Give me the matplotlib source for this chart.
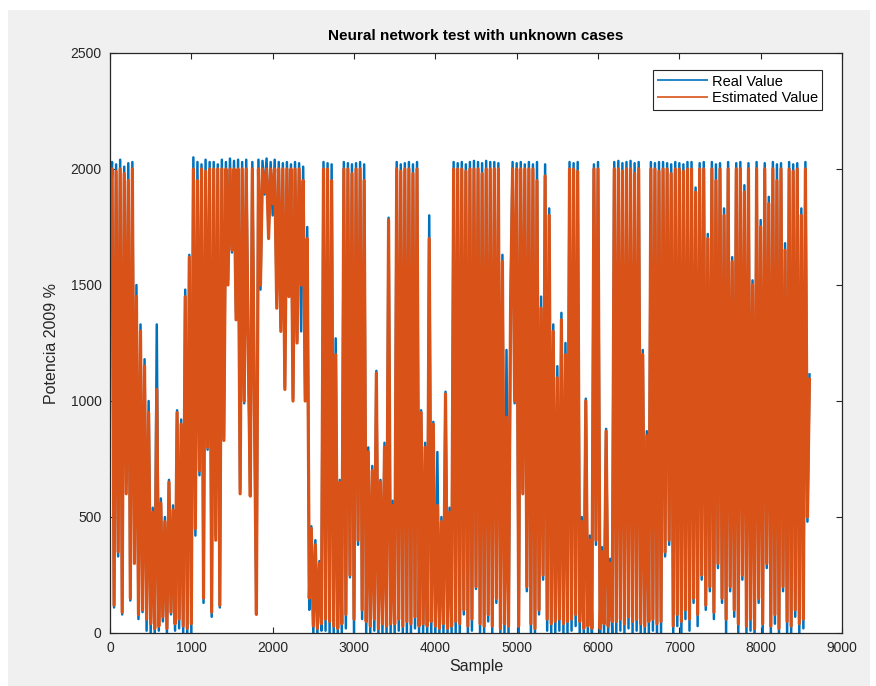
import matplotlib
matplotlib.use("Agg")
import matplotlib.pyplot as plt
import numpy as np
from matplotlib.patches import Rectangle

plt.rcParams["font.family"] = ["Liberation Sans", "DejaVu Sans"]

# one value every 25 samples
step = 25

real_value = [
    1900, 2030, 110, 2020, 330, 2040, 80, 2010, 640, 2025, 140, 2030, 320,
    1500, 60, 1330, 90, 1180,
    10, 1000, 0,
    540, 0, 1330, 10,
    580, 50, 500, 0, 660, 80, 550, 10, 960, 20,
    920, 0, 1480,
    0, 1630, 0,
    2050, 420, 2030,
    680, 2020, 130, 2040, 790, 2030,
    70, 2030, 420, 2020, 110,
    2040, 840, 2030, 1520, 2045, 1640, 2035, 1380, 2040, 620, 2030, 990, 2040, 1230,
    600, 2030, 1010,
    90,
    2040, 1480, 2035, 1890, 2045, 1720, 2030, 1800, 2040,
    1420, 2030, 1320, 2025, 1060, 2030, 1470, 2020, 1010, 2030, 1260, 2025, 1300, 2010,
    1020, 1750, 100,
    460, 0, 400, 0, 310, 10,
    2030, 10, 2025, 0, 2020,
    0, 1270, 0, 660, 0,
    2030, 20, 2025, 240, 2020, 0, 2025, 380, 2030, 60, 2020,
    0, 800, 0, 720, 10, 1130, 0, 660, 0, 820, 0, 1790,
    0, 570,
    0, 2030, 10, 2020, 0, 2025, 0, 2030, 0, 2020, 20, 2030, 0,
    960, 0, 820, 0, 1800, 0, 910,
    0, 780, 0, 500, 0, 1040, 0, 540,
    0, 2030, 0, 2025,
    0, 2030, 80, 2020, 0, 2030, 10, 2035, 190, 2030, 0, 2025, 0, 2035, 50, 2030, 0, 2030, 130, 2025,
    0, 1630, 0, 1220, 0, 1420,
    2030, 990, 2025, 0, 2030, 620, 2020, 180,
    2030, 0, 2020, 0, 2030,
    80, 1450, 230,
    2020, 10, 1830, 0,
    1330, 0, 1150, 10, 1380, 0, 1250, 0,
    2030, 10, 2025, 30, 2030, 0,
    500, 0, 1010, 0, 420, 0,
    2020, 380, 2030,
    0, 370, 0, 880, 0, 320, 0,
    2030, 0, 2035, 10, 2025, 0, 2030, 20, 2035, 0, 2025, 10, 2030,
    0, 1220, 0, 870,
    0, 2030, 10, 2025, 0, 2030, 0,
    2030, 330, 2025, 380, 2020,
    0, 2030, 30, 2025, 0, 2020, 60, 2030,
    10, 2030, 130, 1920, 30, 2025, 230, 2030, 100, 1720,
    180, 2030, 60, 2020, 280, 2025, 130, 1830, 0, 2030,
    180, 1620, 70, 2025, 0, 2030, 230, 1930, 0, 2025,
    10, 1520, 0, 2030, 130, 1780, 0, 2025, 280, 1880,
    0, 2030, 40, 2020, 0, 2025, 180, 1680, 0, 2030,
    0, 2020, 70, 2025, 0, 1830, 20, 2030, 480, 1120,
]

estimated_value = [
    1850, 2000, 120, 1990, 350, 2000, 90, 1980, 600, 1950, 150, 2000, 300,
    1450, 80, 1300, 100, 1150,
    60, 950, 40,
    520, 20, 1050, 30,
    560, 70, 480, 20, 650, 90, 530, 40, 950, 60,
    900, 30, 1450,
    20, 1620, 40,
    2000, 450, 1950,
    700, 2000, 150, 1990, 800, 2000,
    90, 2000, 400, 2000, 120,
    2000, 830, 2000, 1500, 2000, 1650, 2000, 1350, 2000, 600, 2000, 1000, 2000, 1200,
    590, 2000, 1000,
    80,
    2000, 1500, 2000, 1900, 2000, 1700, 2000, 1850, 2000,
    1400, 2000, 1300, 2000, 1050, 2000, 1450, 2000, 1000, 2000, 1250, 2000, 1500, 1950,
    1000, 1700, 150,
    450, 30, 380, 20, 300, 40,
    2000, 60, 2000, 50, 1950,
    30, 1200, 20, 650, 40,
    2000, 80, 2000, 250, 1980, 60, 2000, 400, 2000, 100, 1950,
    50, 780, 30, 700, 60, 1120, 20, 650, 40, 800, 30, 1780,
    40, 550,
    40, 2000, 60, 1990, 30, 2000, 50, 2000, 40, 1980, 70, 2000, 30,
    950, 40, 800, 30, 1700, 50, 900,
    30, 550, 20, 480, 40, 1030, 20, 520,
    30, 2000, 50, 2000,
    40, 2000, 100, 1990, 30, 2000, 60, 2000, 200, 2000, 40, 1980, 30, 2000, 80, 2000, 30, 2000, 150, 2000,
    20, 1600, 40, 930, 30, 1400,
    2000, 1000, 2000, 30, 2000, 600, 2000, 200,
    2000, 40, 2000, 20, 1950,
    100, 1400, 250,
    1970, 60, 1800, 40,
    1300, 50, 1100, 60, 1350, 40, 1200, 50,
    2000, 60, 2000, 80, 1990, 50,
    480, 20, 1000, 30, 400, 20,
    2000, 400, 2000,
    20, 350, 40, 870, 30, 300, 50,
    2000, 50, 2000, 60, 1990, 40, 2000, 70, 2000, 50, 1980, 60, 2000,
    40, 1200, 30, 850,
    50, 2000, 60, 2000, 40, 1990, 50,
    2000, 350, 2000, 400, 1980,
    30, 2000, 80, 2000, 50, 1990, 100, 2000,
    60, 2000, 150, 1900, 80, 2000, 250, 2000, 120, 1700,
    200, 2000, 90, 1950, 300, 2000, 150, 1800, 60, 2000,
    200, 1600, 100, 2000, 40, 2000, 250, 1900, 30, 2000,
    60, 1500, 20, 2000, 150, 1750, 40, 2000, 300, 1850,
    30, 2000, 80, 1950, 20, 2000, 200, 1650, 50, 2000,
    30, 1990, 100, 2000, 40, 1800, 60, 2000, 500, 1100,
]

x_ticks = [0, 1000, 2000, 3000, 4000, 5000, 6000, 7000, 8000, 9000]
y_ticks = [0, 500, 1000, 1500, 2000, 2500]

fig = plt.figure(figsize=(8.76, 6.86), dpi=100, facecolor="white")
fig.patches.append(Rectangle((8 / 876, 0), 862 / 876, 1 - 10 / 686,
                             transform=fig.transFigure, facecolor="#f0f0f0",
                             edgecolor="none", zorder=-10))

ax = fig.add_axes([110 / 876, 53 / 686, 732 / 876, 580 / 686])
ax.set_facecolor("white")

x_real = np.arange(len(real_value)) * step
x_est = np.arange(len(estimated_value)) * step
ax.plot(x_real, real_value, color="#0072BD", lw=1.8, solid_capstyle="butt",
        label="Real Value")
ax.plot(x_est, estimated_value, color="#D95319", lw=2.3, solid_capstyle="butt",
        label="Estimated Value")

ax.set_xlim(0, 9000)
ax.set_ylim(0, 2500)
ax.set_xticks(x_ticks)
ax.set_yticks(y_ticks)
ax.tick_params(direction="in", length=4, width=0.8, colors="#262626",
               labelsize=10, top=True, right=True, pad=6)
for sp in ax.spines.values():
    sp.set_color("#262626")
    sp.set_linewidth(0.9)

ax.set_xlabel("Sample", fontsize=11.5, color="#262626", labelpad=3)
ax.set_ylabel("Potencia 2009 %", fontsize=11.5, color="#262626", labelpad=8)
ax.set_title("Neural network test with unknown cases", fontsize=11,
             fontweight="bold", color="black", pad=9)

leg = ax.legend(loc="upper right", bbox_to_anchor=(0.983, 0.983), fontsize=10.5,
                handlelength=3.5, handletextpad=0.25, borderpad=0.3,
                labelspacing=0.2, fancybox=False, framealpha=1)
leg.get_frame().set_edgecolor("#262626")
leg.get_frame().set_linewidth(0.8)
for line in leg.get_lines():
    line.set_linewidth(1.2)

fig.savefig("out.png", dpi=100, facecolor=fig.get_facecolor())
